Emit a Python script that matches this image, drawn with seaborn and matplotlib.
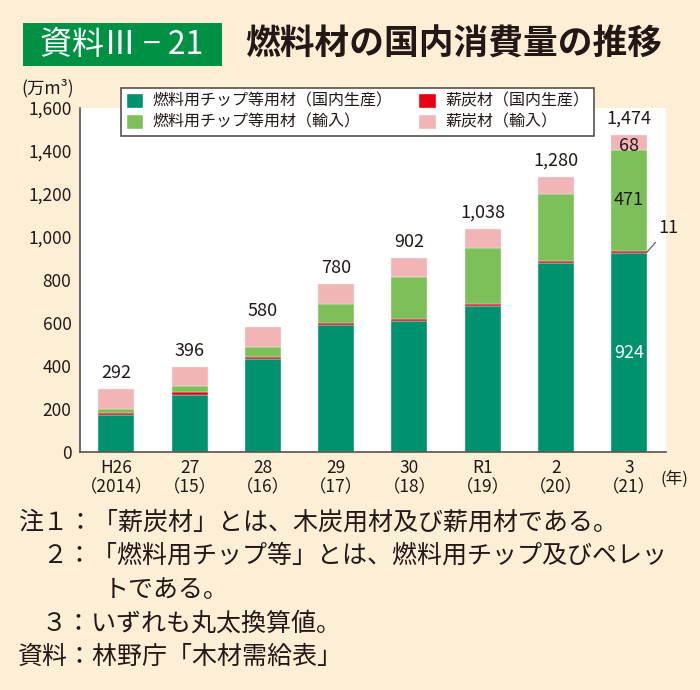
import numpy as np
import pandas as pd
import matplotlib
matplotlib.use('Agg')
import matplotlib.pyplot as plt
import seaborn as sns
from matplotlib.patches import Patch, Rectangle

# データ(万m3)
years = ['H26\n（2014）', '27\n（15）', '28\n（16）', '29\n（17）',
         '30\n（18）', 'R1\n（19）', '2\n（20）', '3\n（21）']
chip_dom = [172, 265, 431, 589, 611, 680, 877, 924]   # 燃料用チップ等用材(国内生産)
char_dom = [11, 12, 12, 11, 9, 8, 11, 11]             # 薪炭材(国内生産)
chip_imp = [18, 29, 45, 88, 195, 262, 313, 471]       # 燃料用チップ等用材(輸入)
char_imp = [91, 90, 92, 92, 87, 88, 79, 68]           # 薪炭材(輸入)
totals = [292, 396, 580, 780, 902, 1038, 1280, 1474]
legend_labels = ['燃料用チップ等用材（国内生産）', '燃料用チップ等用材（輸入）',
                 '薪炭材（国内生産）', '薪炭材（輸入）']

sns.set_style('white')
plt.rcParams['font.family'] = ['Noto Sans CJK JP', 'DejaVu Sans']

cream = '#FDEFD6'
c_dark = '#00916E'
c_light = '#7DC05A'
c_red = '#E60012'
c_pink = '#F2B5B5'
txt = '#231815'
axc = '#5A5050'

df = pd.DataFrame({'year': years, 'chip_dom': chip_dom, 'char_dom': char_dom,
                   'chip_imp': chip_imp, 'char_imp': char_imp})

fig = plt.figure(figsize=(7, 6.9), dpi=100, facecolor=cream)
ax = fig.add_axes([0.114, 0.345, 0.837, 0.4986])
ax.set_facecolor('white')

# 積み上げ棒
bottom = np.zeros(len(years))
cols = ['chip_dom', 'char_dom', 'chip_imp', 'char_imp']
colors = [c_dark, c_red, c_light, c_pink]
for c, col in zip(cols, colors):
    sns.barplot(data=df, x='year', y=c, color=col, bottom=bottom, width=0.49,
                edgecolor='#E8F0E8', linewidth=0.3, saturation=1, ax=ax)
    bottom = bottom + df[c].values

ax.set_ylim(0, 1600)
ax.set_xlim(-0.5, 7.5)
ax.set_xlabel('')
ax.set_ylabel('')
ax.set_yticks(range(0, 1601, 200))
ax.set_yticklabels([f'{v:,}' for v in range(0, 1601, 200)], fontsize=12.5, color=txt)
ax.set_xticks(range(len(years)))
ax.set_xticklabels(years, fontsize=12.5, color=txt, linespacing=1.1)
ax.set_xticks(np.arange(0.5, 7, 1), minor=True)
ax.tick_params(axis='x', which='major', length=0, pad=5)
ax.tick_params(axis='x', which='minor', direction='in', length=6, color=axc, width=1)
ax.tick_params(axis='y', direction='in', length=6, color=axc, width=1, pad=6)
for s in ['top', 'right']:
    ax.spines[s].set_visible(False)
for s in ['left', 'bottom']:
    ax.spines[s].set_color(axc)
    ax.spines[s].set_linewidth(1.2)

# 合計ラベル
for i, t in enumerate(totals):
    ax.annotate(f'{t:,}', xy=(i, t), xytext=(0, 5), textcoords='offset points',
                ha='center', va='bottom', fontsize=13, color=txt)

# 令和3年の内訳ラベル
i = len(years) - 1
ax.text(i, chip_dom[i] / 2, f'{chip_dom[i]}', ha='center', va='center', fontsize=13, color='white')
base_imp = chip_dom[i] + char_dom[i]
ax.text(i, base_imp + chip_imp[i] / 2, f'{chip_imp[i]}', ha='center', va='center', fontsize=13, color=txt)
ax.text(i, base_imp + chip_imp[i] + char_imp[i] / 2 - 15, f'{char_imp[i]}', ha='center', va='center',
        fontsize=13, color=txt)
ax.annotate(f'{char_dom[i]}', xy=(i + 0.245, chip_dom[i] + char_dom[i] / 2),
            xytext=(i + 0.53, 1000), ha='center', va='bottom', fontsize=13, color=txt,
            annotation_clip=False,
            arrowprops=dict(arrowstyle='-', color=axc, lw=0.8, shrinkA=2, shrinkB=0))

# 凡例
handles = [Patch(facecolor=c_dark), Patch(facecolor=c_light),
           Patch(facecolor=c_red), Patch(facecolor=c_pink)]
leg = fig.legend(handles, legend_labels, loc='upper left', ncol=2,
                 bbox_to_anchor=(113 / 700, 1 - 80 / 690), bbox_transform=fig.transFigure,
                 fontsize=11.5, frameon=True, fancybox=False, framealpha=1,
                 handlelength=1.1, handleheight=1.1, handletextpad=0.6,
                 columnspacing=1.6, labelspacing=0.25, borderpad=0.3)
leg.get_frame().set_edgecolor(axc)
leg.get_frame().set_linewidth(1.2)
for t in leg.get_texts():
    t.set_color(txt)

# 単位
fig.text(48 / 700, 1 - 88 / 690, '(万m³)', ha='center', va='center', fontsize=12.5, color=txt)
fig.text(674 / 700, 1 - 479 / 690, '(年)', ha='center', va='center', fontsize=12, color=txt)

# タイトル
fig.patches.append(Rectangle((23 / 700, 1 - 66 / 690), 199 / 700, 43 / 690,
                             transform=fig.transFigure, facecolor='#009144', edgecolor='none'))
fig.text(122 / 700, 1 - 45 / 690, '資料Ⅲ − 21', ha='center', va='center',
         fontsize=23, color='white')
fig.text(245 / 700, 1 - 44 / 690, '燃料材の国内消費量の推移', ha='left', va='center',
         fontsize=25, color=txt, fontweight='bold')

# 注記
notes = [
    (18, 523, '注１：「薪炭材」とは、木炭用材及び薪用材である。'),
    (42, 556, '２：「燃料用チップ等」とは、燃料用チップ及びペレッ'),
    (104, 590, 'トである。'),
    (42, 624, '３：いずれも丸太換算値。'),
    (18, 657, '資料：林野庁「木材需給表」'),
]
for x, y, s in notes:
    fig.text(x / 700, 1 - y / 690, s, ha='left', va='center', fontsize=18, color=txt)

fig.savefig('out.png', dpi=100, facecolor=cream)
